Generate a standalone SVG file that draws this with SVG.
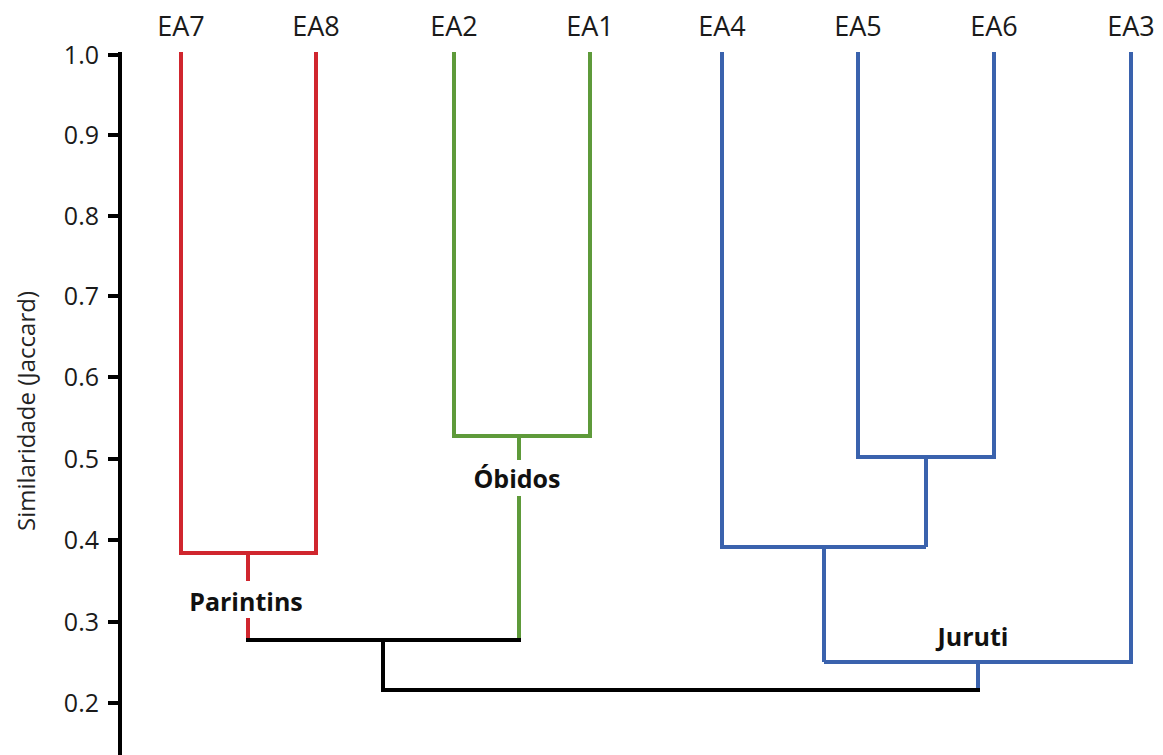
<svg xmlns="http://www.w3.org/2000/svg" width="1163" height="755" viewBox="0 0 1163 755">
<style>
.lbl{font-family:"Open Sans","Noto Sans",sans-serif;font-size:27px;fill:#1a1a1a;text-anchor:middle}
.tick{font-family:"Open Sans","Noto Sans",sans-serif;font-size:25px;fill:#1a1a1a;text-anchor:end}
.grp{font-family:"Open Sans","Noto Sans",sans-serif;font-size:25px;font-weight:bold;fill:#111;text-anchor:middle}
.ax{font-family:"Open Sans","Noto Sans",sans-serif;font-size:24px;fill:#222;text-anchor:middle}
.l{fill:none;stroke-width:4;stroke-linecap:butt;stroke-linejoin:miter}
.red{stroke:#d0262e}.green{stroke:#5e9a3a}.blue{stroke:#3a62ad}.blk{stroke:#000}
</style>
<rect width="1163" height="755" fill="#fff"/>
<g id="axis">
<path class="l blk" d="M120 52V755"/>
<path class="l blk" d="M108 55H120M108 135H120M108 216H120M108 296H120M108 377H120M108 459H120M108 540H120M108 622H120M108 703H120"/>
<text class="tick" x="99" y="64">1.0</text>
<text class="tick" x="99" y="144">0.9</text>
<text class="tick" x="99" y="225">0.8</text>
<text class="tick" x="99" y="305">0.7</text>
<text class="tick" x="99" y="386">0.6</text>
<text class="tick" x="99" y="468">0.5</text>
<text class="tick" x="99" y="549">0.4</text>
<text class="tick" x="99" y="631">0.3</text>
<text class="tick" x="99" y="712">0.2</text>
<text class="ax" transform="translate(35 411) rotate(-90)">Similaridade (Jaccard)</text>
</g>
<g id="leaves">
<text class="lbl" x="181" y="36">EA7</text>
<text class="lbl" x="316" y="36">EA8</text>
<text class="lbl" x="454" y="36">EA2</text>
<text class="lbl" x="590" y="36">EA1</text>
<text class="lbl" x="722" y="36">EA4</text>
<text class="lbl" x="858" y="36">EA5</text>
<text class="lbl" x="994" y="36">EA6</text>
<text class="lbl" x="1131" y="36">EA3</text>
</g>
<g id="connectors">
<path class="l red" d="M181 52V553H316V52"/>
<path class="l red" d="M248 553V581M248 618V640"/>
<path class="l green" d="M454 52V436H590V52"/>
<path class="l green" d="M519 436V460M519 496V640"/>
<path class="l blue" d="M858 52V457H994V52"/>
<path class="l blue" d="M926 457V547"/>
<path class="l blue" d="M722 52V547H926"/>
<path class="l blue" d="M824 547V662"/>
<path class="l blue" d="M824 662H1131V52"/>
<path class="l blue" d="M978 662V690"/>
<path class="l blk" d="M246 640H521"/>
<path class="l blk" d="M383 640V690H980"/>
</g>
<g id="parintins"><text class="grp" x="246" y="611">Parintins</text></g>
<g id="obidos"><text class="grp" x="517" y="488">Óbidos</text></g>
<g id="juruti"><text class="grp" x="973" y="646">Juruti</text></g>
</svg>
